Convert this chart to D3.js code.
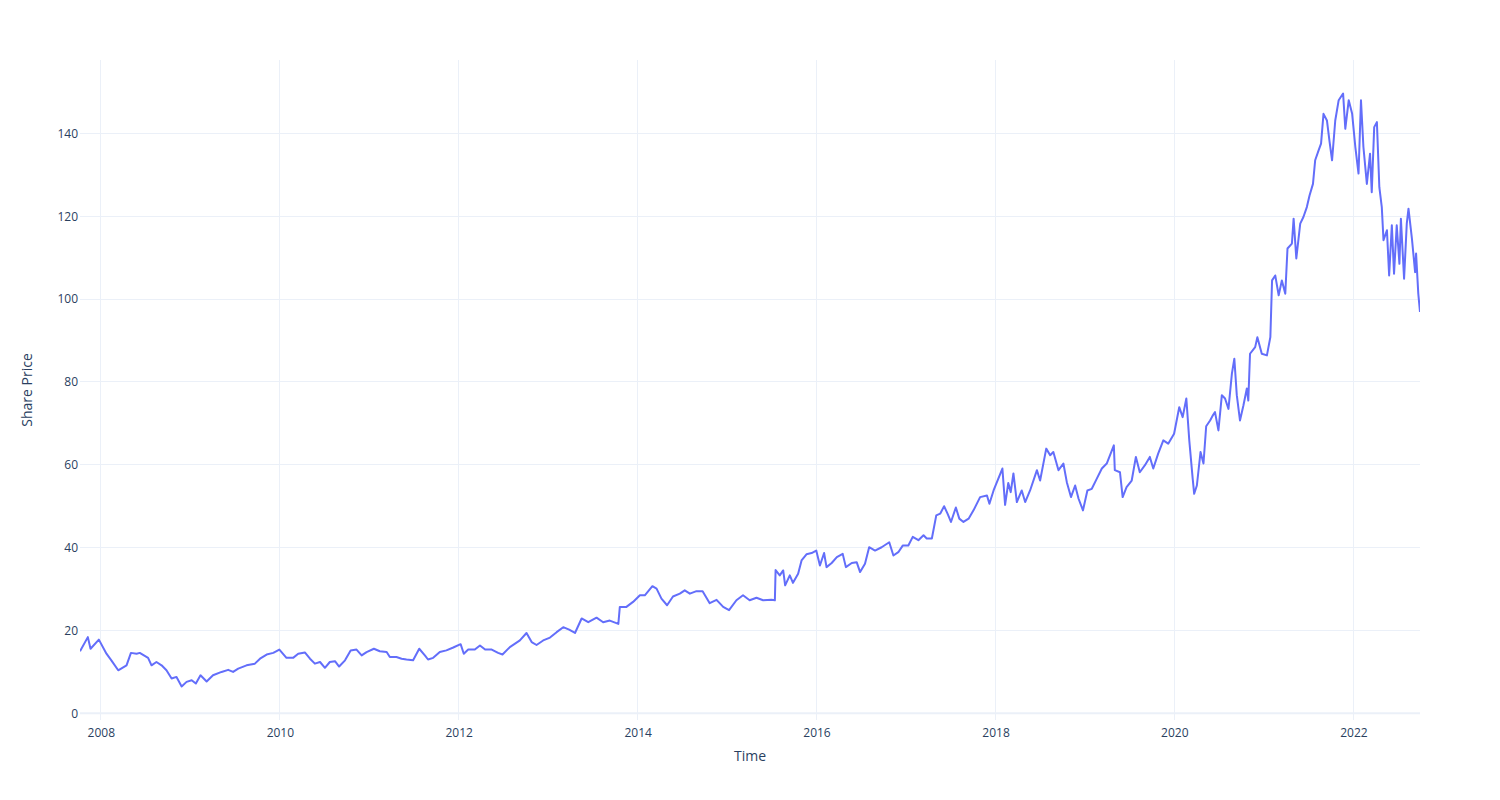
<!DOCTYPE html>
<html>
<head>
<meta charset="utf-8">
<script src="https://cdn.jsdelivr.net/npm/d3@7"></script>
<style>
  html, body { margin: 0; padding: 0; background: #fff; }
  svg { display: block; }
  text { font-family: "Open Sans", verdana, arial, sans-serif; fill: #2a3f5f; }
</style>
</head>
<body>
<svg id="chart" width="1500" height="800"></svg>
<script>
// ---- data (share price over time) ----
const dates = [
  "2007-10-08","2007-11-09","2007-11-20","2007-12-24",
  "2008-01-24","2008-02-13","2008-03-12","2008-04-15","2008-05-03","2008-05-26","2008-06-08","2008-07-12","2008-07-26","2008-08-15","2008-09-05","2008-09-25","2008-10-16","2008-11-05","2008-11-26","2008-12-16",
  "2009-01-06","2009-01-23","2009-02-11","2009-03-08","2009-04-03","2009-05-08","2009-06-04","2009-06-24","2009-07-15","2009-08-18","2009-09-21","2009-10-12","2009-11-08","2009-12-05","2009-12-30",
  "2010-01-28","2010-02-24","2010-03-17","2010-04-13","2010-05-04","2010-05-24","2010-06-14","2010-07-04","2010-07-24","2010-08-14","2010-08-31","2010-09-24","2010-10-17","2010-11-10","2010-12-01","2010-12-21",
  "2011-01-20","2011-02-13","2011-03-13","2011-03-26","2011-04-22","2011-05-13","2011-06-02","2011-06-29","2011-07-24","2011-08-16","2011-08-29","2011-09-19","2011-10-16","2011-11-12","2011-12-10",
  "2012-01-09","2012-01-22","2012-02-09","2012-03-07","2012-03-28","2012-04-18","2012-05-15","2012-06-10","2012-06-28","2012-07-28","2012-09-07","2012-10-04","2012-10-25","2012-11-14","2012-12-11",
  "2013-01-08","2013-02-04","2013-03-03","2013-03-27","2013-04-20","2013-05-17","2013-06-13","2013-07-17","2013-08-13","2013-09-09","2013-10-14","2013-10-20","2013-11-16","2013-12-13",
  "2014-01-10","2014-01-30","2014-03-02","2014-03-19","2014-04-08","2014-05-01","2014-05-25","2014-06-22","2014-07-12","2014-08-02","2014-08-29","2014-09-23","2014-10-22","2014-11-19","2014-12-16",
  "2015-01-09","2015-02-08","2015-03-07","2015-04-03","2015-05-01","2015-05-28","2015-07-01","2015-07-15","2015-07-18","2015-08-04","2015-08-18","2015-08-26","2015-09-14","2015-09-27","2015-10-18","2015-11-01","2015-11-21","2015-12-12","2015-12-31",
  "2016-01-15","2016-02-01","2016-02-11","2016-03-03","2016-03-24","2016-04-17","2016-04-30","2016-05-24","2016-06-13","2016-06-27","2016-07-17","2016-08-03","2016-08-27","2016-09-23","2016-10-24","2016-11-10","2016-11-30","2016-12-18",
  "2017-01-10","2017-01-28","2017-02-20","2017-03-13","2017-03-26","2017-04-16","2017-05-04","2017-05-20","2017-06-05","2017-06-19","2017-07-03","2017-07-23","2017-08-06","2017-08-23","2017-09-13","2017-10-03","2017-10-30","2017-11-27","2017-12-07","2017-12-24",
  "2018-01-07","2018-01-29","2018-02-09","2018-02-22","2018-03-04","2018-03-15","2018-03-29","2018-04-18","2018-05-02","2018-05-22","2018-06-19","2018-07-02","2018-07-27","2018-08-12","2018-08-25","2018-09-15","2018-10-05","2018-10-19","2018-11-05","2018-11-22","2018-12-06","2018-12-24",
  "2019-01-11","2019-01-29","2019-02-18","2019-03-11","2019-03-31","2019-04-29","2019-05-03","2019-05-24","2019-06-04","2019-06-20","2019-07-11","2019-07-28","2019-08-13","2019-09-03","2019-09-23","2019-10-07","2019-10-27","2019-11-17","2019-12-07","2019-12-31",
  "2020-01-21","2020-02-04","2020-02-19","2020-03-02","2020-03-16","2020-03-22","2020-04-02","2020-04-17","2020-04-29","2020-05-10","2020-05-26","2020-06-07","2020-06-15","2020-06-29","2020-07-13","2020-07-26","2020-08-09","2020-08-23","2020-09-02","2020-09-12","2020-09-25","2020-10-09","2020-10-23","2020-10-29","2020-11-05","2020-11-26","2020-12-05","2020-12-23",
  "2021-01-13","2021-01-27","2021-02-03","2021-02-16","2021-03-02","2021-03-15","2021-03-29","2021-04-07","2021-04-25","2021-05-02","2021-05-13","2021-05-29","2021-06-11","2021-06-25","2021-07-06","2021-07-20","2021-07-29","2021-08-12","2021-08-22","2021-09-01","2021-09-15","2021-09-26","2021-10-06","2021-10-19","2021-11-02","2021-11-20","2021-11-29","2021-12-13","2021-12-27",
  "2022-01-09","2022-01-22","2022-02-01","2022-02-11","2022-02-25","2022-03-10","2022-03-17","2022-03-27","2022-04-07","2022-04-17","2022-04-27","2022-05-04","2022-05-18","2022-05-27","2022-06-07","2022-06-16","2022-06-27","2022-07-08","2022-07-14","2022-07-27","2022-08-07","2022-08-14","2022-08-28","2022-09-10","2022-09-14","2022-09-23","2022-09-30"
];
const prices = [
  15.0,18.4,15.6,17.8,
  14.4,12.8,10.4,11.6,14.6,14.4,14.6,13.4,11.6,12.4,11.6,10.4,8.4,8.8,6.5,7.6,
  8.0,7.2,9.2,7.7,9.2,10.0,10.5,10.0,10.8,11.6,12.0,13.2,14.2,14.6,15.4,
  13.4,13.4,14.4,14.7,13.2,12.0,12.4,11.0,12.4,12.6,11.3,12.8,15.2,15.4,14.0,14.8,
  15.6,15.0,14.8,13.6,13.6,13.2,13.0,12.8,15.6,14.0,13.0,13.4,14.8,15.2,15.9,
  16.7,14.4,15.4,15.4,16.4,15.4,15.4,14.6,14.2,16.0,17.6,19.4,17.2,16.5,17.6,
  18.3,19.6,20.8,20.2,19.4,22.9,22.0,23.1,22.0,22.4,21.6,25.7,25.7,26.9,
  28.5,28.5,30.7,30.1,27.7,26.1,28.2,28.9,29.7,28.9,29.5,29.5,26.6,27.4,25.7,
  24.9,27.3,28.5,27.3,27.9,27.3,27.4,27.3,34.6,33.3,34.5,30.9,33.3,31.5,33.7,36.9,38.4,38.7,39.3,
  35.7,38.7,35.3,36.3,37.7,38.5,35.3,36.3,36.5,34.1,36.1,40.1,39.3,40.1,41.3,38.1,38.9,40.5,
  40.5,42.6,41.8,43.0,42.2,42.2,47.8,48.2,50.0,48.2,46.2,49.7,47.0,46.2,47.0,49.0,52.2,52.6,50.6,53.8,
  55.9,59.1,50.3,55.6,53.4,57.9,51.0,53.8,51.0,53.8,58.7,56.2,63.9,62.3,63.1,58.7,60.3,55.8,52.2,55.0,51.8,49.0,
  53.8,54.2,56.6,59.1,60.3,64.7,58.7,58.2,52.2,54.6,56.2,61.9,58.2,59.9,61.9,59.1,62.7,65.9,65.1,67.5,
  73.9,71.5,76.0,65.9,56.6,53.0,55.0,63.1,60.3,69.3,70.7,72.0,72.7,68.3,76.8,76.0,73.5,82.0,85.6,76.8,70.7,74.3,78.4,75.5,86.8,88.4,90.8,86.8,
  86.4,90.8,104.5,105.7,100.9,104.5,101.3,112.2,113.4,119.4,109.8,118.2,119.8,122.2,125.0,127.8,133.5,135.9,137.5,144.7,143.1,137.9,133.5,143.1,148.0,149.6,141.1,148.0,144.7,
  136.7,130.3,148.0,136.7,127.8,135.1,125.8,141.5,142.7,127.0,122.2,114.2,116.6,105.7,117.8,106.1,117.8,108.5,119.4,104.9,118.2,121.8,114.6,106.5,111.0,101.3,96.9
];
const yTickValues = [0, 20, 40, 60, 80, 100, 120, 140];
const xTickLabels = ["2008","2010","2012","2014","2016","2018","2020","2022"];
const xTitle = "Time";
const yTitle = "Share Price";

// ---- layout ----
const W = 1500, H = 800;
const m = { left: 80, right: 80, top: 60, bottom: 80 };
const plotL = m.left, plotR = W - m.right, plotT = m.top, plotB = H - m.bottom;

const parse = d3.timeParse("%Y-%m-%d");
const data = dates.map((d, i) => ({ date: parse(d), value: prices[i] }));

const x = d3.scaleTime()
  .domain(d3.extent(data, d => d.date))
  .range([plotL, plotR]);
const y = d3.scaleLinear()
  .domain([-1.6, 157.7])
  .range([plotB, plotT]);

const svg = d3.select("#chart");
svg.append("rect").attr("width", W).attr("height", H).attr("fill", "#fff");

const gridColor = "#EBF0F8";
const xTickDates = xTickLabels.map(s => new Date(+s, 0, 1));

// vertical grid
svg.append("g").selectAll("line").data(xTickDates).join("line")
  .attr("x1", d => x(d)).attr("x2", d => x(d))
  .attr("y1", plotT).attr("y2", plotB)
  .attr("stroke", gridColor).attr("stroke-width", 1).attr("shape-rendering", "crispEdges");

// horizontal grid
svg.append("g").selectAll("line").data(yTickValues.filter(v => v !== 0)).join("line")
  .attr("x1", plotL).attr("x2", plotR)
  .attr("y1", d => y(d)).attr("y2", d => y(d))
  .attr("stroke", gridColor).attr("stroke-width", 1).attr("shape-rendering", "crispEdges");

// zero line
svg.append("line")
  .attr("x1", plotL).attr("x2", plotR)
  .attr("y1", y(0)).attr("y2", y(0))
  .attr("stroke", gridColor).attr("stroke-width", 2);

// axes via d3 axis generators (styled like plotly)
const xAxis = d3.axisBottom(x).tickValues(xTickDates).tickFormat(d3.timeFormat("%Y")).tickSize(0).tickPadding(8);
const gx = svg.append("g").attr("transform", `translate(0,${plotB})`).call(xAxis);
gx.select(".domain").remove();
gx.selectAll("text").attr("font-size", 12).attr("fill", "#2a3f5f")
  .style("font-family", '"Open Sans", verdana, arial, sans-serif');

const yAxis = d3.axisLeft(y).tickValues(yTickValues).tickFormat(d3.format("d")).tickSize(0).tickPadding(2);
const gy = svg.append("g").attr("transform", `translate(${plotL},0)`).call(yAxis);
gy.select(".domain").remove();
gy.selectAll("text").attr("font-size", 12).attr("fill", "#2a3f5f")
  .style("font-family", '"Open Sans", verdana, arial, sans-serif');

// clip path
svg.append("clipPath").attr("id", "clip")
  .append("rect").attr("x", plotL).attr("y", plotT).attr("width", plotR - plotL).attr("height", plotB - plotT);

// line
const line = d3.line().x(d => x(d.date)).y(d => y(d.value));
svg.append("path")
  .datum(data)
  .attr("clip-path", "url(#clip)")
  .attr("fill", "none")
  .attr("stroke", "#636efa")
  .attr("stroke-width", 2)
  .attr("stroke-linejoin", "round")
  .attr("d", line);

// axis titles
svg.append("text")
  .attr("x", (plotL + plotR) / 2).attr("y", 761)
  .attr("text-anchor", "middle").attr("font-size", 14)
  .text(xTitle);
svg.append("text")
  .attr("transform", `translate(32,${(plotT + plotB) / 2}) rotate(-90)`)
  .attr("text-anchor", "middle").attr("font-size", 14)
  .text(yTitle);
</script>
</body>
</html>
